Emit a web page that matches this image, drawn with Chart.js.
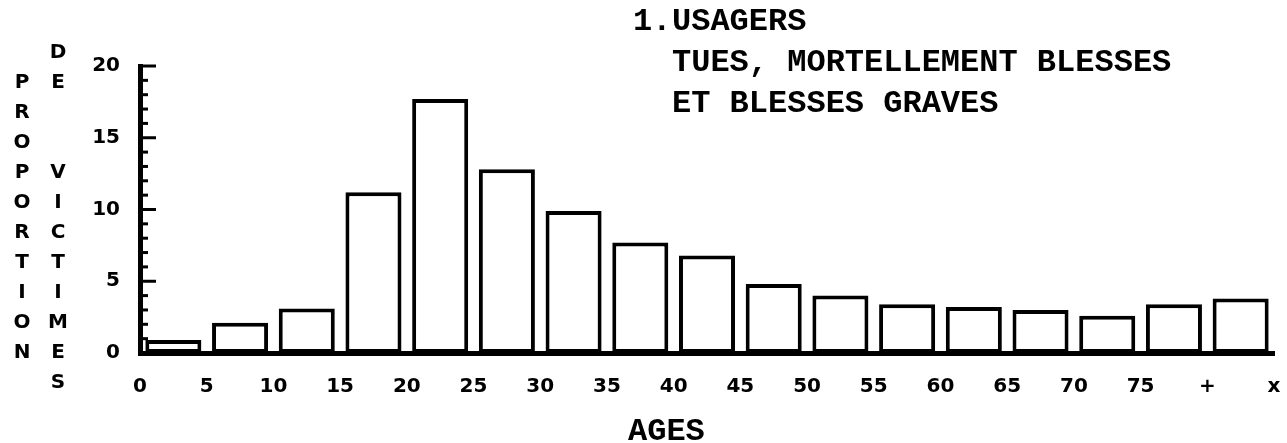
<!DOCTYPE html>
<html lang="fr">
<head>
<meta charset="utf-8">
<title>Usagers tués, mortellement blessés et blessés graves</title>
<script src="https://cdn.jsdelivr.net/npm/chart.js@4.4.0/dist/chart.umd.min.js"></script>
<style>
  html, body { margin: 0; padding: 0; background: #fff; }
  #wrap { position: relative; width: 1287px; height: 443px; }
</style>
</head>
<body>
<div id="wrap"><canvas id="grafico"></canvas></div>
<script>
// Données (proportion de victimes par classe d'âge)
const ageLabels = ['0', '5', '10', '15', '20', '25', '30', '35', '40', '45', '50', '55', '60', '65', '70', '75', '+', 'x'];
const proportions = [0.9, 2.1, 3.1, 11.2, 17.7, 12.8, 9.9, 7.7, 6.8, 4.8, 4.0, 3.4, 3.2, 3.0, 2.6, 3.4, 3.8];
const yTicks = [0, 5, 10, 15, 20];

const titleLines = ['USAGERS', 'TUES, MORTELLEMENT BLESSES', 'ET BLESSES GRAVES'];
const yTitleCols = ['PROPORTION', 'DE  VICTIMES'];
const xTitle = 'AGES';

const monoBold = "bold 32px 'Liberation Mono', 'Courier New', monospace";
const tickFont = { family: "'DejaVu Sans', sans-serif", size: 20, weight: 'bold' };

// une barre par classe, centrée au milieu de l'intervalle
const points = proportions.map((v, i) => ({ x: i + 0.5, y: v }));

// petites graduations vers l'intérieur sur l'axe vertical
const graduations = {
  id: 'graduations',
  afterDraw(chart) {
    const ys = chart.scales.y;
    const ctx = chart.ctx;
    const x0 = chart.chartArea.left;
    ctx.save();
    ctx.strokeStyle = '#000';
    ctx.lineWidth = 3;
    for (let v = ys.min; v <= ys.max; v++) {
      const len = v % 5 === 0 ? 16 : 8;
      const py = ys.getPixelForValue(v);
      ctx.beginPath();
      ctx.moveTo(x0, py);
      ctx.lineTo(x0 + len, py);
      ctx.stroke();
    }
    ctx.restore();
  }
};

// textes : titre, légende verticale, AGES
const textes = {
  id: 'textes',
  afterDraw(chart) {
    const ctx = chart.ctx;
    ctx.save();
    ctx.fillStyle = '#000';
    ctx.font = monoBold;
    ctx.textAlign = 'left';
    ctx.textBaseline = 'alphabetic';
    ctx.fillText('1.', 633, 30);
    ctx.fillText(titleLines[0], 672, 30);
    ctx.fillText(titleLines[1], 672, 71);
    ctx.fillText(titleLines[2], 672, 112);
    ctx.fillText(xTitle, 628, 440);

    ctx.font = "bold 20px 'DejaVu Sans', sans-serif";
    ctx.textAlign = 'center';
    ctx.textBaseline = 'middle';
    const colX = [22, 58];
    const colTop = [83, 53];
    yTitleCols.forEach((txt, c) => {
      txt.split('').forEach((ch, k) => {
        if (ch !== ' ') ctx.fillText(ch, colX[c], colTop[c] + k * 30);
      });
    });
    ctx.restore();
  }
};

new Chart(document.getElementById('grafico'), {
  type: 'bar',
  data: {
    datasets: [{
      data: points,
      backgroundColor: '#fff',
      borderColor: '#000',
      borderWidth: 4,
      borderSkipped: false,
      categoryPercentage: 1,
      barPercentage: 0.84
    }]
  },
  options: {
    responsive: true,
    maintainAspectRatio: false,
    animation: false,
    layout: { padding: { left: 80, top: 66, right: 13, bottom: 0 } },
    plugins: {
      legend: { display: false },
      tooltip: { enabled: false },
      title: { display: false }
    },
    scales: {
      x: {
        type: 'linear',
        offset: false,
        min: 0,
        max: ageLabels.length - 1,
        // pas de lignes de grille ; le tickLength sert seulement d'écart sous l'axe
        grid: { display: true, drawOnChartArea: false, offset: false, drawTicks: true, tickLength: 22, tickColor: 'rgba(0,0,0,0)' },
        border: { display: true, color: '#000', width: 5 },
        ticks: {
          stepSize: 1,
          autoSkip: false,
          maxRotation: 0,
          padding: 0,
          color: '#000',
          font: tickFont,
          callback: (v) => ageLabels[v]
        },
        afterFit: (s) => { s.height = 90; }
      },
      y: {
        min: 0,
        max: 20,
        grid: { display: false, drawTicks: false },
        border: { display: true, color: '#000', width: 5 },
        afterBuildTicks: (s) => { s.ticks = yTicks.map(v => ({ value: v })); },
        ticks: {
          padding: 20,
          color: '#000',
          font: tickFont
        },
        afterFit: (s) => { s.width = 60; }
      }
    }
  },
  plugins: [graduations, textes]
});
</script>
</body>
</html>
